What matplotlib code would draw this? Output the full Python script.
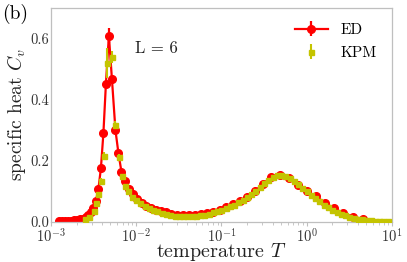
import matplotlib
matplotlib.use("Agg")
import matplotlib.pyplot as plt

# exact diagonalisation data
ed_T = [1.24e-3, 1.35e-3, 1.46e-3, 1.58e-3, 1.72e-3, 1.86e-3, 2.02e-3, 2.19e-3, 2.37e-3, 2.58e-3,
        2.75e-3, 2.94e-3, 3.15e-3, 3.37e-3, 3.61e-3, 3.86e-3, 4.13e-3, 4.42e-3, 4.79e-3, 5.20e-3,
        5.72e-3, 6.20e-3, 6.72e-3, 7.38e-3, 8.22e-3, 9.16e-3, 1.035e-2, 1.17e-2, 1.32e-2, 1.49e-2,
        1.71e-2, 1.95e-2, 2.23e-2, 2.59e-2, 3.01e-2, 3.53e-2, 4.16e-2, 4.89e-2, 5.75e-2, 6.76e-2,
        8.05e-2, 9.59e-2, 0.1145, 0.136, 0.165, 0.199, 0.247, 0.307, 0.386, 0.485,
        0.619, 0.789, 1.01, 1.28, 1.64, 2.09, 2.70, 3.49, 4.57]
ed_cv = [0.003, 0.003, 0.003, 0.004, 0.004, 0.005, 0.006, 0.008, 0.011, 0.016,
         0.022, 0.031, 0.045, 0.068, 0.108, 0.175, 0.290, 0.452, 0.610, 0.468,
         0.300, 0.225, 0.165, 0.133, 0.107, 0.092, 0.075, 0.062, 0.053, 0.046,
         0.040, 0.035, 0.031, 0.026, 0.024, 0.023, 0.023, 0.024, 0.026, 0.029,
         0.034, 0.040, 0.048, 0.058, 0.068, 0.080, 0.100, 0.125, 0.146, 0.155,
         0.145, 0.122, 0.100, 0.084, 0.062, 0.045, 0.028, 0.017, 0.010]
ed_err = [0, 0, 0, 0, 0, 0, 0, 0, 0, 0,
          0, 0, 0, 0, 0, 0.005, 0.008, 0.012, 0.025, 0.012,
          0.006, 0, 0, 0, 0, 0, 0, 0, 0, 0,
          0, 0, 0, 0, 0, 0, 0, 0, 0, 0,
          0, 0, 0, 0, 0, 0, 0, 0, 0, 0,
          0, 0, 0, 0, 0, 0, 0, 0, 0]

# kernel polynomial method data
kpm_T = [2.52e-3, 2.81e-3, 3.17e-3, 3.40e-3, 3.61e-3, 3.83e-3, 4.22e-3, 4.57e-3, 5.15e-3, 5.68e-3,
         6.28e-3, 6.81e-3, 7.38e-3, 7.94e-3, 8.91e-3, 1.00e-2, 1.12e-2, 1.26e-2, 1.41e-2, 1.58e-2,
         1.78e-2, 2.00e-2, 2.24e-2, 2.51e-2, 2.82e-2, 3.16e-2, 3.55e-2, 3.98e-2, 4.47e-2, 5.01e-2,
         5.62e-2, 6.31e-2, 7.08e-2, 7.94e-2, 8.91e-2, 0.100, 0.112, 0.126, 0.141, 0.158,
         0.178, 0.200, 0.224, 0.251, 0.282, 0.316, 0.355, 0.398, 0.447, 0.501,
         0.562, 0.631, 0.708, 0.794, 0.891, 1.00, 1.12, 1.26, 1.41, 1.58,
         1.78, 2.00, 2.24, 2.51, 2.82, 3.16, 3.55, 3.98, 4.47, 5.01,
         5.62, 6.31, 7.08, 7.94, 8.91]
kpm_cv = [0.009, 0.017, 0.037, 0.061, 0.090, 0.134, 0.217, 0.520, 0.540, 0.318,
          0.214, 0.150, 0.116, 0.100, 0.083, 0.072, 0.062, 0.053, 0.046, 0.040,
          0.035, 0.030, 0.026, 0.023, 0.020, 0.019, 0.018, 0.018, 0.019, 0.020,
          0.022, 0.024, 0.027, 0.031, 0.035, 0.040, 0.045, 0.051, 0.057, 0.064,
          0.072, 0.081, 0.091, 0.101, 0.114, 0.126, 0.137, 0.146, 0.152, 0.153,
          0.150, 0.143, 0.134, 0.123, 0.112, 0.100, 0.089, 0.078, 0.067, 0.057,
          0.048, 0.040, 0.033, 0.027, 0.022, 0.017, 0.014, 0.011, 0.009, 0.007,
          0.005, 0.004, 0.003, 0.003, 0.002]
kpm_err = [0.002, 0.003, 0.004, 0.006, 0.008, 0.010, 0.012, 0.050, 0.020, 0.012,
           0.008, 0.005, 0.004, 0.003, 0.002, 0.002, 0.002, 0.002, 0.002, 0.002,
           0.002, 0.002, 0.002, 0.002, 0.002, 0.002, 0.002, 0.002, 0.002, 0.002,
           0.002, 0.002, 0.002, 0.002, 0.002, 0.002, 0.002, 0.002, 0.002, 0.002,
           0.002, 0.002, 0.002, 0.002, 0.002, 0.002, 0.002, 0.002, 0.002, 0.002,
           0.002, 0.002, 0.002, 0.002, 0.002, 0.002, 0.002, 0.002, 0.002, 0.002,
           0.002, 0.002, 0.002, 0.002, 0.002, 0.002, 0.002, 0.002, 0.002, 0.002,
           0.002, 0.002, 0.002, 0.002, 0.002]

plt.rcParams['font.family'] = 'serif'
plt.rcParams['font.serif'] = ['cmr10']
plt.rcParams['mathtext.fontset'] = 'cm'
plt.rcParams['axes.formatter.use_mathtext'] = True
plt.rcParams['axes.unicode_minus'] = False

fig = plt.figure(figsize=(4.07, 2.62), dpi=100)
ax = fig.add_axes([0.125, 0.153, 0.838, 0.816])

ax.errorbar(ed_T, ed_cv, yerr=ed_err, fmt='-o', color='red', ms=5.5, lw=1.6,
            elinewidth=1.6, label='ED', zorder=2)
ax.errorbar(kpm_T, kpm_cv, yerr=kpm_err, fmt='s', color='#c4c400', ms=3.6,
            elinewidth=1.5, label='KPM', zorder=3)

ax.set_xscale('log')
ax.set_xlim(1e-3, 1e1)
ax.set_ylim(0, 0.7)
ax.set_yticks([0.0, 0.2, 0.4, 0.6])
ax.set_yticklabels(['0.0', '0.2', '0.4', '0.6'])

for s in ax.spines.values():
    s.set_color('#bfbfbf')
    s.set_linewidth(0.9)
ax.tick_params(axis='both', which='both', colors='#bfbfbf', labelcolor='#333333',
               labelsize=10.5, length=3, direction='out', pad=1)
ax.tick_params(axis='x', which='minor', length=2)
ax.tick_params(axis='y', length=0)

ax.set_xlabel('temperature $T$', fontsize=14.5, color='#222222')
ax.xaxis.set_label_coords(0.5, -0.09)
ax.set_ylabel('specific heat $C_v$', fontsize=14, color='#222222', labelpad=2)

ax.text(0.31, 0.81, 'L = 6', transform=ax.transAxes, fontsize=12,
        ha='center', va='center', color='#222222')
fig.text(0.005, 0.945, '(b)', fontsize=14, color='black', va='center')

ax.legend(loc='upper right', frameon=False, fontsize=11, handlelength=2.2,
          borderaxespad=0.6, labelspacing=0.6)

fig.savefig('out.png', dpi=100)
